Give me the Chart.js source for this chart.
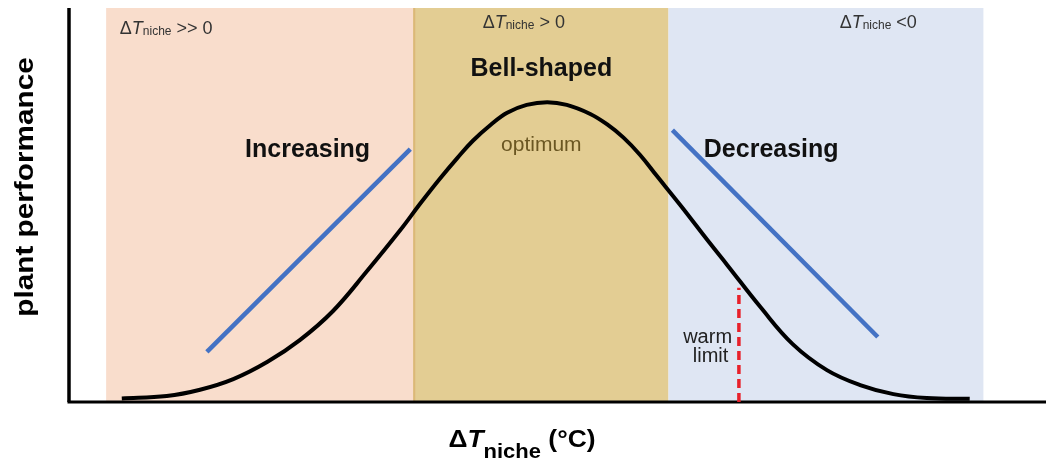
<!DOCTYPE html>
<html>
<head>
<meta charset="utf-8">
<script src="https://cdn.jsdelivr.net/npm/chart.js@4.4.1/dist/chart.umd.min.js"></script>
<style>
  html, body { margin: 0; padding: 0; background: #ffffff; }
  #wrap { width: 1046px; height: 465px; position: relative; }
</style>
</head>
<body>
<div id="wrap"><canvas id="nicheChart"></canvas></div>
<script>
// performance curve (arbitrary units, 0-100 on both axes)
const curveX = [5.5, 10.1, 13.5, 16.9, 20.4, 23.7, 27.1, 30.6, 34.0, 36.0, 38.0, 39.8, 41.4, 43.2,
  44.9, 46.9, 49.0, 51.0, 53.4, 55.1, 56.8, 58.5, 60.2, 62.6, 65.6, 67.4, 70.8, 74.1, 77.6, 81.0,
  84.4, 87.8, 92.2];
const curveY = [0.9, 1.5, 3.1, 5.8, 10.2, 15.7, 23.1, 33.3, 43.7, 50.3, 56.6, 61.9, 66.3, 70.3,
  73.4, 75.4, 76.1, 75.4, 73.1, 70.5, 67.1, 62.7, 57.4, 50.0, 40.4, 34.8, 24.1, 14.7, 8.1, 4.3,
  2.0, 1.0, 0.8];

const increasingX = [14.2, 35.0];
const increasingY = [12.7, 64.2];
const decreasingX = [61.8, 82.8];
const decreasingY = [69.0, 16.5];

const warmLimitX = [68.6, 68.6];
const warmLimitY = [0, 29.0];

// region bands: edges along x, one colour per band
const bandEdges = [3.9, 35.3, 61.4, 93.6];
const bandTop = 100;

const palette = {
  pink: "#f9ddcc",
  gold: "#e3cd93",
  goldEdge: "#dcb877",
  blue: "#dfe6f3",
  line: "#4472c4",
  red: "#e8202a",
  black: "#000000",
  text: "#333333",
  olive: "#6a5622"
};
const bandColors = [palette.pink, palette.gold, palette.blue];

const FONT = '"Liberation Sans", Arial, sans-serif';

const toPoints = (xs, ys) => xs.map((x, i) => ({ x, y: ys[i] }));

const nicheRuns = (rest) => [
  { text: "\u0394", font: `18px ${FONT}`, color: palette.text },
  { text: "T", font: `italic 18px ${FONT}`, color: palette.text },
  { text: "niche", font: `12px ${FONT}`, color: palette.text, dy: 1 },
  { text: rest, font: `18px ${FONT}`, color: palette.text }
];
const plainRuns = (text, font, color) => [{ text, font, color }];

// annotation texts, anchored in data units
const labels = [
  { runs: nicheRuns(" >> 0"), x: 5.3, y: 93.4, align: "left" },
  { runs: nicheRuns(" > 0"), x: 42.4, y: 94.9, align: "left" },
  { runs: nicheRuns(" <0"), x: 78.9, y: 94.9, align: "left" },
  { runs: plainRuns("Bell-shaped", `bold 25px ${FONT}`, "#111111"), x: 48.4, y: 82.7, align: "center" },
  { runs: plainRuns("Increasing", `bold 25px ${FONT}`, "#111111"), x: 24.5, y: 62.2, align: "center" },
  { runs: plainRuns("Decreasing", `bold 25px ${FONT}`, "#111111"), x: 71.9, y: 62.2, align: "center" },
  { runs: plainRuns("optimum", `21px ${FONT}`, palette.olive), x: 48.4, y: 63.7, align: "center" },
  { runs: plainRuns("warm", `20px ${FONT}`, "#222222"), x: 65.4, y: 15.0, align: "center" },
  { runs: plainRuns("limit", `20px ${FONT}`, "#222222"), x: 65.7, y: 10.2, align: "center" }
];

const drawRuns = (ctx, runs, x, y, align, sx = 1) => {
  let total = 0;
  runs.forEach((r) => {
    ctx.font = r.font;
    total += ctx.measureText(r.text).width;
  });
  ctx.save();
  ctx.translate(x, y);
  ctx.scale(sx, 1);
  ctx.textBaseline = "alphabetic";
  ctx.textAlign = "left";
  let cx = align === "center" ? -total / 2 : align === "right" ? -total : 0;
  runs.forEach((r) => {
    ctx.font = r.font;
    ctx.fillStyle = r.color;
    ctx.fillText(r.text, cx, r.dy || 0);
    cx += ctx.measureText(r.text).width;
  });
  ctx.restore();
};

const backdropPlugin = {
  id: "backdropPlugin",
  beforeDatasetsDraw(chart) {
    const { ctx, chartArea, scales } = chart;
    const top = scales.y.getPixelForValue(bandTop);
    ctx.save();
    bandColors.forEach((color, i) => {
      const x0 = scales.x.getPixelForValue(bandEdges[i]);
      const x1 = scales.x.getPixelForValue(bandEdges[i + 1]);
      ctx.fillStyle = color;
      ctx.fillRect(x0, top, x1 - x0, chartArea.bottom - top);
    });
    // darker seam on the left of the gold band
    ctx.fillStyle = palette.goldEdge;
    ctx.fillRect(scales.x.getPixelForValue(bandEdges[1]), top, 2, chartArea.bottom - top);

    // axes
    ctx.strokeStyle = palette.black;
    ctx.lineWidth = 3.5;
    ctx.beginPath();
    ctx.moveTo(chartArea.left + 1, chartArea.top);
    ctx.lineTo(chartArea.left + 1, chartArea.bottom);
    ctx.stroke();
    ctx.lineWidth = 3;
    ctx.beginPath();
    ctx.moveTo(chartArea.left - 0.5, chartArea.bottom);
    ctx.lineTo(chart.width, chartArea.bottom);
    ctx.stroke();
    ctx.restore();
  },
  afterDatasetsDraw(chart) {
    const { ctx, scales } = chart;
    labels.forEach((l) => {
      drawRuns(ctx, l.runs, scales.x.getPixelForValue(l.x), scales.y.getPixelForValue(l.y), l.align);
    });

    // axis titles
    drawRuns(ctx, [
      { text: "\u0394", font: `bold 24px ${FONT}`, color: palette.black },
      { text: "T", font: `bold italic 24px ${FONT}`, color: palette.black },
      { text: "niche", font: `bold 20px ${FONT}`, color: palette.black, dy: 11 },
      { text: " (\u00b0C)", font: `bold 24px ${FONT}`, color: palette.black }
    ], 522, 447, "center", 1.1);

    ctx.save();
    ctx.translate(33, 187);
    ctx.rotate(-Math.PI / 2);
    drawRuns(ctx, plainRuns("plant performance", `bold 25px ${FONT}`, palette.black), 0, 0, "center", 1.19);
    ctx.restore();
  }
};

new Chart(document.getElementById("nicheChart"), {
  type: "line",
  data: {
    datasets: [
      {
        label: "performance",
        data: toPoints(curveX, curveY),
        borderColor: palette.black,
        borderWidth: 4,
        pointRadius: 0,
        tension: 0.4,
        fill: false
      },
      {
        label: "increasing",
        data: toPoints(increasingX, increasingY),
        borderColor: palette.line,
        borderWidth: 4.5,
        pointRadius: 0
      },
      {
        label: "decreasing",
        data: toPoints(decreasingX, decreasingY),
        borderColor: palette.line,
        borderWidth: 4.5,
        pointRadius: 0
      },
      {
        label: "warm limit",
        data: toPoints(warmLimitX, warmLimitY),
        borderColor: palette.red,
        borderWidth: 3.5,
        borderDash: [9, 5],
        pointRadius: 0
      }
    ]
  },
  options: {
    responsive: true,
    maintainAspectRatio: false,
    animation: false,
    layout: { padding: { left: 68, right: 0, top: 8, bottom: 63 } },
    plugins: {
      legend: { display: false },
      tooltip: { enabled: false }
    },
    scales: {
      x: { type: "linear", display: false, min: 0, max: 100 },
      y: { type: "linear", display: false, min: 0, max: 100 }
    }
  },
  plugins: [backdropPlugin]
});
</script>
</body>
</html>
